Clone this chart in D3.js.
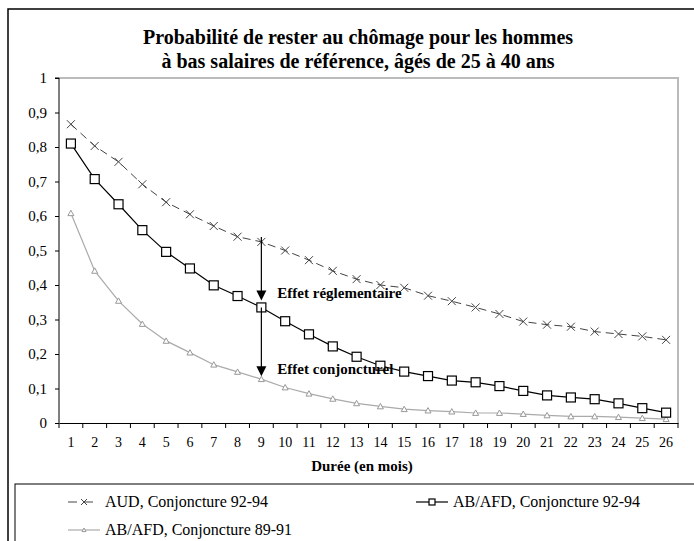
<!DOCTYPE html>
<html>
<head>
<meta charset="utf-8">
<script src="https://cdn.jsdelivr.net/npm/d3@7"></script>
<style>
  body { margin: 0; background: #fff; }
  svg text { font-family: "Liberation Serif", "Times New Roman", "DejaVu Serif", serif !important; fill: #000; }
</style>
</head>
<body>
<svg id="chart"></svg>
<script>
const width = 694;
const height = 541;

// durées en mois
const months = d3.range(1, 27);
const yTicks = [0, 0.1, 0.2, 0.3, 0.4, 0.5, 0.6, 0.7, 0.8, 0.9, 1];
const yTickLabels = ["0", "0,1", "0,2", "0,3", "0,4", "0,5", "0,6", "0,7", "0,8", "0,9", "1"];

// probabilités
const aud9294 = [0.866, 0.803, 0.757, 0.692, 0.64, 0.605, 0.571, 0.54, 0.525, 0.5, 0.472, 0.441,
  0.417, 0.4, 0.392, 0.369, 0.353, 0.335, 0.316, 0.294, 0.285, 0.279, 0.265, 0.258, 0.251, 0.241];
const abafd9294 = [0.81, 0.707, 0.634, 0.559, 0.496, 0.448, 0.399, 0.368, 0.335, 0.295, 0.257, 0.222,
  0.192, 0.166, 0.149, 0.136, 0.123, 0.118, 0.107, 0.093, 0.08, 0.074, 0.069, 0.057, 0.043, 0.03];
const abafd8991 = [0.608, 0.441, 0.354, 0.287, 0.238, 0.204, 0.169, 0.148, 0.127, 0.103, 0.085, 0.07,
  0.057, 0.048, 0.04, 0.036, 0.033, 0.029, 0.029, 0.026, 0.022, 0.019, 0.019, 0.017, 0.014, 0.011];

const titleLines = ["Probabilité de rester au chômage pour les hommes",
  "à bas salaires de référence, âgés de 25 à 40 ans"];
const legendLabels = ["AUD, Conjoncture 92-94", "AB/AFD, Conjoncture 92-94", "AB/AFD, Conjoncture 89-91"];

const svg = d3.select("#chart").attr("width", width).attr("height", height);

// cadre extérieur
svg.append("rect")
  .attr("x", 8).attr("y", 9).attr("width", 720).attr("height", 600)
  .attr("fill", "none").attr("stroke", "#000").attr("stroke-width", 1.5);

const plot = { left: 59, right: 678, top: 78, bottom: 423 };

const x = d3.scaleBand().domain(months).range([plot.left, plot.right]);
const y = d3.scaleLinear().domain([0, 1]).range([plot.bottom, plot.top]);
const cx = d => x(d) + x.bandwidth() / 2;

// bordure grise de la zone de tracé
svg.append("path")
  .attr("d", `M${plot.left},${plot.top}H${plot.right}V${plot.bottom}`)
  .attr("fill", "none").attr("stroke", "#bbb").attr("stroke-width", 2);

// titre
svg.append("g").selectAll("text")
  .data(titleLines)
  .join("text")
  .attr("x", 358)
  .attr("y", (d, i) => 44 + i * 24)
  .attr("text-anchor", "middle")
  .attr("font-size", "20px")
  .attr("font-weight", "bold")
  .text(d => d);

// axe Y
const yAxis = svg.append("g")
  .attr("transform", `translate(${plot.left},0)`)
  .call(d3.axisLeft(y).tickValues(yTicks).tickSize(4).tickPadding(8)
    .tickFormat((d, i) => yTickLabels[i]));
yAxis.attr("font-family", null);
yAxis.selectAll("text").attr("font-size", "15px");
yAxis.selectAll("line, path").attr("stroke", "#000");
yAxis.select(".domain").attr("d", `M-4,${plot.top}H0V${plot.bottom}`);

// axe X (graduations entre catégories)
const xAxis = svg.append("g")
  .attr("transform", `translate(0,${plot.bottom})`)
  .call(d3.axisBottom(x).tickSize(0).tickPadding(14));
xAxis.attr("font-family", null);
xAxis.selectAll("text").attr("font-size", "14px");
xAxis.select(".domain").attr("stroke", "#000");
xAxis.selectAll(".edge")
  .data(months.map(m => x(m)).concat([plot.right]))
  .join("line")
  .attr("class", "edge")
  .attr("x1", d => d).attr("x2", d => d)
  .attr("y1", 0).attr("y2", 5)
  .attr("stroke", "#000");

svg.append("text")
  .attr("x", 362).attr("y", 471)
  .attr("text-anchor", "middle")
  .attr("font-size", "15px").attr("font-weight", "bold")
  .text("Durée (en mois)");

const line = d3.line().x((d, i) => cx(months[i])).y(d => y(d));

// marqueurs
function crossMark(g, s) {
  g.append("path").attr("d", `M${-s},${-s}L${s},${s}M${-s},${s}L${s},${-s}`)
    .attr("stroke", "#444").attr("stroke-width", 1).attr("fill", "none");
}
function squareMark(g, s) {
  g.append("rect").attr("x", -s).attr("y", -s).attr("width", 2 * s).attr("height", 2 * s)
    .attr("fill", "#fff").attr("stroke", "#000").attr("stroke-width", 1.2);
}
function triMark(g, s) {
  g.append("path").attr("d", `M0,${-s}L${s},${s * 0.8}L${-s},${s * 0.8}Z`)
    .attr("fill", "#fff").attr("stroke", "#999").attr("stroke-width", 1);
}

const series = [
  { values: aud9294, color: "#444", width: 1, dash: "8,5", mark: crossMark, size: 4 },
  { values: abafd9294, color: "#000", width: 1.2, dash: null, mark: squareMark, size: 4.5 },
  { values: abafd8991, color: "#aaa", width: 1.2, dash: null, mark: triMark, size: 3 }
];

series.slice().reverse().forEach(s => {
  svg.append("path")
    .datum(s.values)
    .attr("d", line)
    .attr("fill", "none")
    .attr("stroke", s.color)
    .attr("stroke-width", s.width)
    .attr("stroke-dasharray", s.dash);
  svg.append("g").selectAll("g")
    .data(s.values)
    .join("g")
    .attr("transform", (d, i) => `translate(${cx(months[i])},${y(d)})`)
    .each(function () { s.mark(d3.select(this), s.size); });
});

// flèches d'annotation au mois 9
const ai = 8;
const ax = cx(months[ai]);
const arrows = [
  { from: y(aud9294[ai]) - 5, to: y(abafd9294[ai]) - 7, label: "Effet réglementaire" },
  { from: y(abafd9294[ai]), to: y(abafd8991[ai]) - 3, label: "Effet conjoncturel" }
];
arrows.forEach(a => {
  svg.append("line")
    .attr("x1", ax).attr("x2", ax)
    .attr("y1", a.from).attr("y2", a.to - 8)
    .attr("stroke", "#000").attr("stroke-width", 1.2);
  svg.append("path")
    .attr("d", `M${ax - 5},${a.to - 10}L${ax + 5},${a.to - 10}L${ax},${a.to}Z`)
    .attr("fill", "#000");
  svg.append("text")
    .attr("x", ax + 16).attr("y", a.to - 2)
    .attr("font-size", "15px").attr("font-weight", "bold")
    .text(a.label);
});

// légende
svg.append("rect")
  .attr("x", 15).attr("y", 484).attr("width", 720).attr("height", 100)
  .attr("fill", "#fff").attr("stroke", "#000").attr("stroke-width", 1);

const legendPos = [
  { x: 68, y: 502 },
  { x: 416, y: 502 },
  { x: 68, y: 530 }
];
series.forEach((s, i) => {
  const p = legendPos[i];
  const g = svg.append("g").attr("transform", `translate(${p.x},${p.y})`);
  g.append("line").attr("x1", 0).attr("x2", 32).attr("y1", 0).attr("y2", 0)
    .attr("stroke", s.color).attr("stroke-width", s.width)
    .attr("stroke-dasharray", s.dash ? "9,7" : null);
  const m = g.append("g").attr("transform", "translate(16,0)");
  s.mark(m, i === 0 ? 3 : i === 1 ? 3 : 2);
  g.append("text").attr("x", 37).attr("y", 5)
    .attr("font-size", "16px")
    .text(legendLabels[i]);
});
</script>
</body>
</html>
